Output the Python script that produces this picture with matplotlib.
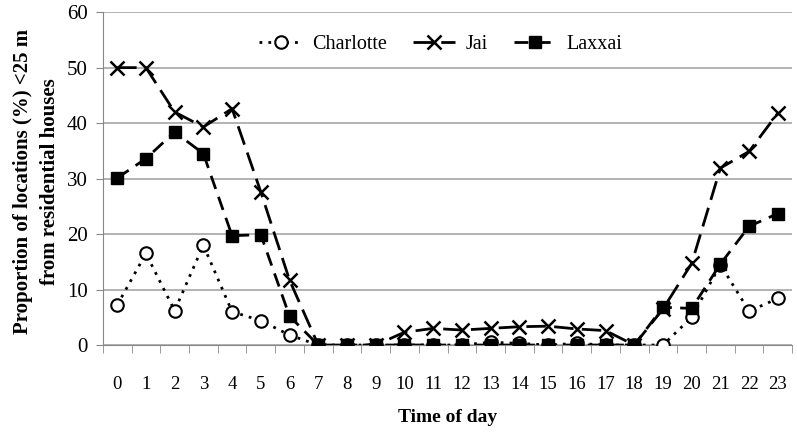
import numpy as np
import matplotlib.pyplot as plt
from matplotlib.ticker import FixedLocator

# ---- Data -------------------------------------------------
hours = list(range(24))
charlotte = [7.2, 16.5, 6.2, 18.0, 6.0, 4.4, 1.8, 0, 0, 0, 0, 0,
             0, 0.5, 0.3, 0, 0.3, 0, 0, 0, 5.0, 14.5, 6.1, 8.4]
jai = [50.0, 50.0, 42.0, 39.3, 42.6, 27.6, 11.7, 0, 0, 0, 2.3, 3.0,
       2.7, 3.0, 3.3, 3.4, 2.9, 2.6, 0, 6.5, 14.7, 31.9, 34.9, 41.8]
laxxai = [30.1, 33.6, 38.4, 34.5, 19.7, 19.9, 5.2, 0, 0, 0, 0, 0,
          0, 0, 0, 0, 0, 0, 0, 6.8, 6.6, 14.6, 21.4, 23.7]
tick_labels = [str(h) for h in hours]

plt.rcParams['font.family'] = ['Liberation Serif', 'DejaVu Serif']

fig = plt.figure(figsize=(7.97, 4.34), dpi=100)
ax = fig.add_axes([0.129, 0.205, 0.865, 0.767])

x = np.arange(len(hours))
ax.plot(x, charlotte, color='black', linestyle=(0, (1, 2.2)), linewidth=2,
        marker='o', markersize=9, markerfacecolor='white',
        markeredgewidth=1.5, label='Charlotte', zorder=3)
ax.plot(x, jai, color='black', linestyle=(0, (7, 3)), linewidth=2,
        marker='x', markersize=10, markeredgewidth=1.8,
        label='Jai', zorder=4)
ax.plot(x, laxxai, color='black', linestyle=(0, (5, 3)), linewidth=2,
        marker='s', markersize=9, label='Laxxai', zorder=5)

ax.set_xlim(-0.5, len(hours) - 0.5)
ax.set_ylim(0, 60)
ax.set_yticks(range(0, 61, 10))
ax.set_xticks(x)
ax.set_xticklabels(tick_labels)
ax.xaxis.set_minor_locator(FixedLocator(np.arange(-0.5, len(hours), 1)))
ax.tick_params(axis='x', which='major', length=0, labelsize=13.5, pad=22)
ax.tick_params(axis='x', which='minor', length=6, color='#888888', direction='out')
ax.tick_params(axis='y', length=5, color='#888888', labelsize=15, pad=6)

ax.grid(axis='y', color='#a6a6a6', linewidth=1.2)
ax.set_axisbelow(True)
for s in ['top', 'right']:
    ax.spines[s].set_visible(False)
ax.spines['left'].set_color('#888888')
ax.spines['bottom'].set_color('#888888')

ax.set_ylabel('Proportion of locations (%) <25 m\nfrom residential houses',
              fontsize=15, fontweight='bold', linespacing=1.5)
ax.yaxis.set_label_coords(-0.062, 0.49)
ax.set_xlabel('Time of day', fontsize=14, fontweight='bold', labelpad=12)

leg = ax.legend(loc='upper center', bbox_to_anchor=(0.49, 0.985), ncol=3,
                frameon=False, fontsize=14.5, handlelength=2.1,
                columnspacing=1.3, handletextpad=0.5)

fig.savefig('out.png', dpi=100)
